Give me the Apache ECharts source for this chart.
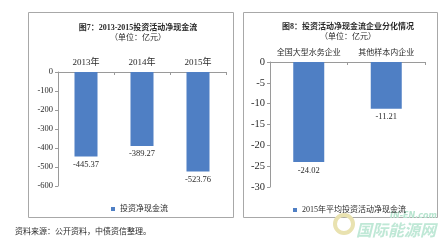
<!DOCTYPE html>
<html><head><meta charset="utf-8">
<script src="https://cdn.jsdelivr.net/npm/echarts@6/dist/echarts.min.js"></script>
<style>html,body{margin:0;padding:0;background:#fff}#c{width:446px;height:245px}</style>
</head><body><div id="c"></div>
<script>
const years = ['2013年', '2014年', '2015年'];
const netFlow = [-445.37, -389.27, -523.76];
const leftTicks = [0, -100, -200, -300, -400, -500, -600];
const groups = ['全国大型水务企业', '其他样本内企业'];
const avgFlow = [-24.02, -11.21];
const rightTicks = [0, -5, -10, -15, -20, -25, -30];

const FONT = '"Liberation Serif", "Noto Sans CJK SC", serif';
const BLUE = '#4f7fc4';
const TXT = '#2a2a2a';
const AX = '#9a9a9a';

const chart = echarts.init(document.getElementById('c'), null, {renderer: 'canvas'});
function xAx(idx, data, fs) {
  return {
    type: 'category', gridIndex: idx, data: data, position: 'top',
    axisLine: {show: true, lineStyle: {color: AX, width: 1}},
    axisTick: {show: true, inside: true, length: 3, lineStyle: {color: AX}},
    axisLabel: {color: TXT, fontSize: fs, fontFamily: FONT, margin: 5, interval: 0, hideOverlap: false}
  };
}
function yAx(idx, ticks, fs) {
  return {
    type: 'value', gridIndex: idx,
    min: ticks[ticks.length - 1], max: ticks[0], interval: ticks[0] - ticks[1],
    splitLine: {show: false},
    axisLine: {show: true, lineStyle: {color: AX, width: 1}},
    axisTick: {show: true, length: 3, lineStyle: {color: AX}},
    axisLabel: {color: TXT, fontSize: fs, fontFamily: FONT, margin: 5}
  };
}
chart.setOption({
  animation: false,
  backgroundColor: '#fff',
  graphic: [
    {type: 'rect', shape: {x: 28.5, y: 12.5, width: 205, height: 205}, style: {fill: 'none', stroke: '#a8a8a8', lineWidth: 1}, z: -1},
    {type: 'rect', shape: {x: 243.5, y: 12.5, width: 194, height: 205}, style: {fill: 'none', stroke: '#a8a8a8', lineWidth: 1}, z: -1},
    {type: 'text', left: 15, top: 228, style: {text: '资料来源：公开资料，中债资信整理。', fontSize: 8, fill: TXT, fontFamily: FONT}},
    {type: 'text', left: 390, top: 212, style: {text: 'IN-EN.com', fontSize: 8, fontWeight: 'bold', fontStyle: 'italic', fill: '#b7e4cf', fontFamily: 'DejaVu Sans'}},
    {type: 'text', left: 356, top: 222, style: {text: '国际能源网', fontSize: 16, fontWeight: 'bold', fontStyle: 'italic', fill: '#bfe8d6', fontFamily: '"Noto Sans CJK SC"'}},
    {type: 'circle', shape: {cx: 344, cy: 224, r: 9}, style: {fill: 'none', stroke: '#e9e2b0', lineWidth: 4}}
  ],
  title: [
    {text: '图7：2013-2015投资活动净现金流', subtext: '（单位：亿元）', left: 133, top: 19, textAlign: 'center',
     textStyle: {fontSize: 8, fontWeight: 'bold', color: TXT, fontFamily: FONT}, itemGap: 2,
     subtextStyle: {fontSize: 8, color: TXT, fontFamily: FONT}},
    {text: '图8：投资活动净现金流企业分化情况', subtext: '（单位：亿元）', left: 343, top: 18, textAlign: 'center',
     textStyle: {fontSize: 8, fontWeight: 'bold', color: TXT, fontFamily: FONT}, itemGap: 2,
     subtextStyle: {fontSize: 8, color: TXT, fontFamily: FONT}}
  ],
  legend: [
    {data: ['投资净现金流'], left: 106, top: 200, itemWidth: 4, itemHeight: 4, itemGap: 2,
     textStyle: {fontSize: 8, color: TXT, fontFamily: FONT}, icon: 'rect'},
    {data: ['2015年平均投资活动净现金流'], left: 288, top: 201, itemWidth: 4, itemHeight: 4,
     textStyle: {fontSize: 8, color: TXT, fontFamily: FONT}, icon: 'rect'}
  ],
  grid: [
    {left: 58, right: 220, top: 72, bottom: 59},
    {left: 270, right: 21, top: 62, bottom: 58}
  ],
  xAxis: [xAx(0, years, 9), xAx(1, groups, 8)],
  yAxis: [yAx(0, leftTicks, 8.5), yAx(1, rightTicks, 10.5)],
  series: [
    {name: '投资净现金流', type: 'bar', xAxisIndex: 0, yAxisIndex: 0, data: netFlow, barWidth: 23,
     itemStyle: {color: BLUE},
     label: {show: true, position: 'bottom', distance: 4, fontSize: 8.5, color: TXT, fontFamily: FONT,
       formatter: p => p.value.toFixed(2)}},
    {name: '2015年平均投资活动净现金流', type: 'bar', xAxisIndex: 1, yAxisIndex: 1, data: avgFlow, barWidth: 31,
     itemStyle: {color: BLUE},
     label: {show: true, position: 'bottom', distance: 4, fontSize: 8.5, color: TXT, fontFamily: FONT,
       formatter: p => p.value.toFixed(2)}}
  ]
});
</script></body></html>
